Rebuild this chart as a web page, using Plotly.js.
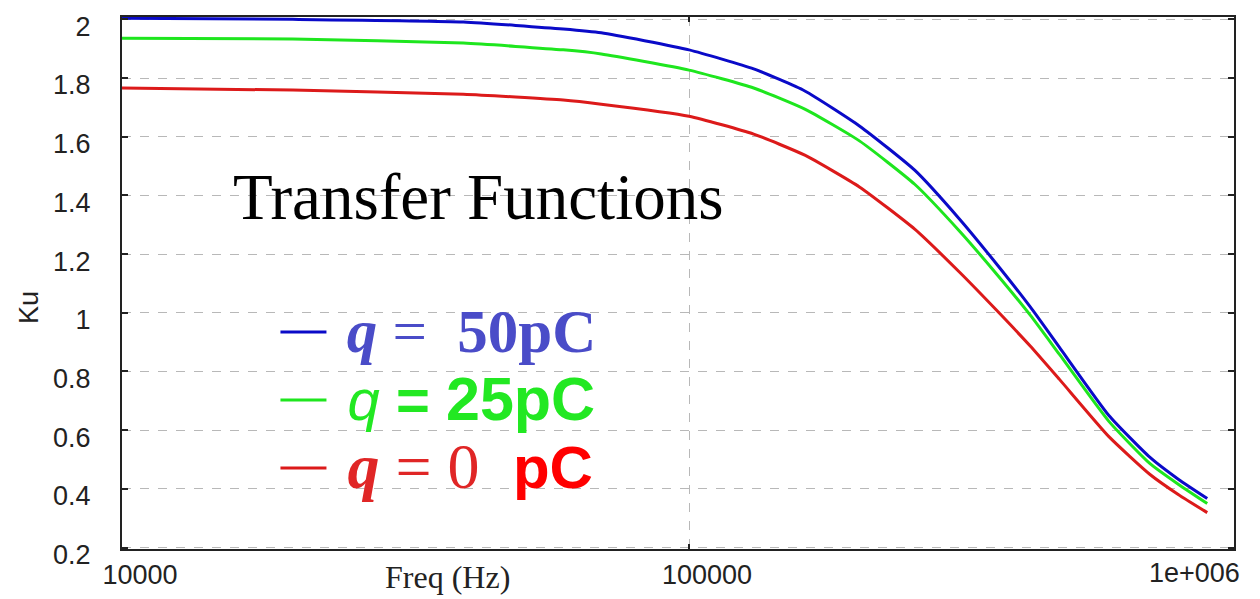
<!DOCTYPE html>
<html>
<head>
<meta charset="utf-8">
<script src="https://cdn.plot.ly/plotly-3.0.1.min.js"></script>
<style>html,body{margin:0;padding:0;background:#fff;}#chart{width:1260px;height:599px;}</style>
</head>
<body>
<div id="chart"></div>
<script>
// Frequency (Hz)
const freq = [10000, 20000, 40000, 60000, 70000, 100000, 130000, 160000, 200000, 250000, 300000, 350000, 400000, 450000, 550000, 650000, 730000, 820000];
// Ku for q = 50 pC
const ku50 = [2.004, 2.0, 1.991, 1.967, 1.954, 1.896, 1.831, 1.756, 1.636, 1.486, 1.319, 1.162, 1.019, 0.882, 0.65, 0.507, 0.432, 0.367];
// Ku for q = 25 pC
const ku25 = [1.936, 1.933, 1.919, 1.896, 1.882, 1.827, 1.766, 1.694, 1.585, 1.438, 1.278, 1.128, 0.991, 0.858, 0.63, 0.486, 0.415, 0.35];
// Ku for q = 0 pC
const ku0 = [1.766, 1.759, 1.745, 1.725, 1.711, 1.67, 1.609, 1.537, 1.428, 1.285, 1.138, 1.005, 0.886, 0.773, 0.578, 0.449, 0.38, 0.319];

const xTickVals = [10000, 100000];
const xTickText = ['10000', '100000'];
const yTickVals = [0.2, 0.4, 0.6, 0.8, 1.0, 1.2, 1.4, 1.6, 1.8, 2.0];
const yTickText = ['0.2', '0.4', '0.6', '0.8', '1', '1.2', '1.4', '1.6', '1.8', '2'];

const SANS = 'Liberation Sans, Arial, sans-serif';
const SERIF = 'Liberation Serif, Times New Roman, serif';
const NB = '\u00a0';

const name50 = '<span style="font-family:\'Liberation Serif\';font-size:61px;color:#4a4cc8">' + NB +
  '<b><i>q</i></b> = ' + NB + '<b>50pC</b></span>';
const name25 = '<span style="font-family:\'Liberation Sans\';font-size:58px;color:#22e822">' + NB +
  '<i>q</i> <b>=</b> </span><span style="font-family:\'Liberation Sans\';font-size:61px;color:#22e822"><b>25pC</b></span>';
const name0 = '<span style="font-family:\'Liberation Serif\';font-size:64px;color:#e02626">' + NB +
  '<b><i>q</i></b> = 0</span><span style="font-family:\'Liberation Sans\';font-size:60px;color:#ff0000">' + NB + ' <b>pC</b></span>';

const traces = [
  {x: freq, y: ku50, mode: 'lines', name: name50, legendgroup: 'a', line: {color: '#0a0ac8', width: 3, shape: 'spline', smoothing: 0.5}},
  {x: freq, y: ku25, mode: 'lines', name: name25, legendgroup: 'b', line: {color: '#1ee61e', width: 3, shape: 'spline', smoothing: 0.5}},
  {x: freq, y: ku0, mode: 'lines', name: name0, legendgroup: 'c', line: {color: '#dc1a1a', width: 3, shape: 'spline', smoothing: 0.5}}
];

const layout = {
  width: 1260, height: 599,
  margin: {l: 122, r: 26, t: 17, b: 50, pad: 0},
  paper_bgcolor: '#ffffff', plot_bgcolor: '#ffffff',
  font: {family: SANS, size: 27, color: '#222'},
  showlegend: true,
  legend: {
    x: 0.138, xanchor: 'left', y: 0.28, yanchor: 'middle',
    bgcolor: 'rgba(0,0,0,0)', borderwidth: 0,
    font: {size: 50, family: SERIF},
    traceorder: 'grouped', tracegroupgap: 0, itemwidth: 46
  },
  xaxis: {
    type: 'log', range: [4, 5.961],
    tickmode: 'array', tickvals: xTickVals, ticktext: xTickText,
    showgrid: true, gridcolor: '#b8b8b8', griddash: 'dash', gridwidth: 1,
    showline: true, linecolor: '#222', linewidth: 2, mirror: 'ticks',
    ticks: 'inside', ticklen: 5, tickcolor: '#222', tickwidth: 2,
    tickfont: {family: SANS, size: 27, color: '#222'},
    ticklabelshift: 18, ticklabelstandoff: 1, ticklabeloverflow: 'allow',
    zeroline: false
  },
  yaxis: {
    range: [0.195, 2.008],
    tickmode: 'array', tickvals: yTickVals, ticktext: yTickText,
    showgrid: true, gridcolor: '#b8b8b8', griddash: 'dash', gridwidth: 1,
    showline: true, linecolor: '#222', linewidth: 2, mirror: 'ticks',
    ticks: 'inside', ticklen: 6, tickcolor: '#222', tickwidth: 2,
    tickfont: {family: SANS, size: 27, color: '#222'},
    ticklabelshift: 7, ticklabelstandoff: 24, ticklabeloverflow: 'allow',
    zeroline: false
  },
  annotations: [
    {xref: 'paper', yref: 'paper', x: 1, y: 0, xanchor: 'right', yanchor: 'top', xshift: 8, yshift: -7,
     text: '1e+006', showarrow: false, font: {family: SANS, size: 27, color: '#222'}},
    {xref: 'paper', yref: 'paper', x: (447 - 122) / 1112, y: 0, xanchor: 'center', yanchor: 'top', yshift: -8,
     text: 'Freq (Hz)', showarrow: false, font: {family: SERIF, size: 32, color: '#222'}},
    {xref: 'paper', yref: 'paper', x: (29 - 122) / 1112, y: (549 - 308) / 532, xanchor: 'center', yanchor: 'middle',
     text: 'Ku', textangle: -90, showarrow: false, font: {family: SANS, size: 27, color: '#222'}},
    {xref: 'paper', yref: 'paper', x: (478 - 122) / 1112, y: (549 - 197) / 532, xanchor: 'center', yanchor: 'middle',
     text: 'Transfer Functions', showarrow: false, font: {family: SERIF, size: 65, color: '#000'}}
  ]
};

Plotly.newPlot('chart', traces, layout, {displayModeBar: false, staticPlot: true});
</script>
</body>
</html>
